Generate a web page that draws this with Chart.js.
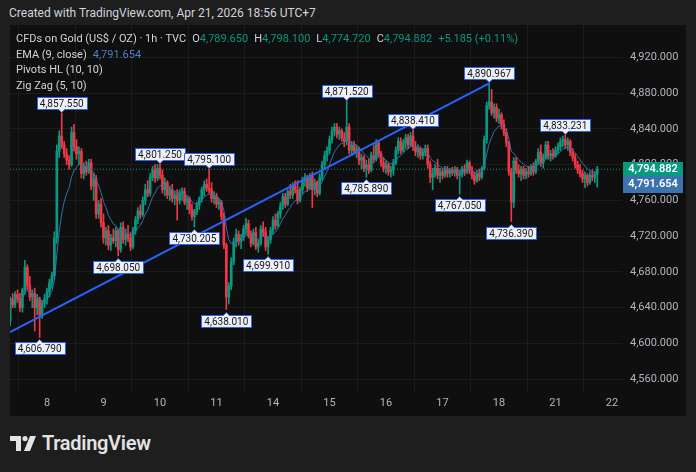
<!DOCTYPE html>
<html>
<head>
<meta charset="utf-8">
<script src="https://cdn.jsdelivr.net/npm/chart.js@4.4.1/dist/chart.umd.min.js"></script>
<style>
  html, body { margin: 0; padding: 0; width: 696px; height: 472px; overflow: hidden; background: #1e1e1e; font-family: Roboto, sans-serif; }
  #created { position: absolute; left: 9px; top: 6px; font-size: 12px; color: #d1d4dc; white-space: nowrap; }
  #panel { position: absolute; left: 10px; top: 25px; width: 676px; height: 391px; background: #0f0f0f; }
  #legend { position: absolute; left: 6px; top: 6px; font-size: 11px; line-height: 15.6px; color: #d1d4dc; white-space: nowrap; pointer-events: none; }
  #legend .g { color: #089981; }
  #legend .b { color: #4a80c4; }
  #legend .sp { display: inline-block; width: 6px; }
  #logo { position: absolute; left: 10px; top: 431px; height: 24px; display: flex; align-items: center; color: #e3e3e3; font-size: 20px; font-weight: 600; letter-spacing: -0.3px; }
  #logo svg { margin-right: 5px; }
</style>
</head>
<body>
<div id="created">Created with TradingView.com, Apr 21, 2026 18:56 UTC+7</div>
<div id="panel">
  <canvas id="chart" width="676" height="391"></canvas>
  <div id="legend">
    <div>CFDs on Gold (US$ / OZ) · 1h · TVC<span class="sp"></span>O<span class="g">4,789.650</span><span class="sp"></span>H<span class="g">4,798.100</span><span class="sp"></span>L<span class="g">4,774.720</span><span class="sp"></span>C<span class="g">4,794.882</span><span class="sp"></span><span class="g">+5.185 (+0.11%)</span></div>
    <div>EMA (9, close)<span class="sp"></span><span class="b">4,791.654</span></div>
    <div>Pivots HL (10, 10)</div>
    <div>Zig Zag (5, 10)</div>
  </div>
</div>
<div id="logo">
  <svg width="27" height="15" viewBox="0 0 27 15"><path d="M0 0h11v15H6V5H0z" fill="#e3e3e3"/><circle cx="15" cy="2.6" r="2.6" fill="#e3e3e3"/><path d="M20 0h6l-6 15h-6z" fill="#e3e3e3"/></svg>
  <span>TradingView</span>
</div>
<script>
// hourly candles, index 0 = first bar on screen (Apr 7), last = Apr 21 18:00
const opens = [
  4625,4650,4643,4655,4650,4640,4660,4685,4665,4652,4656,4640,4650,4632,4645,4650,4658,4668,4676,4718,
  4815,4832,4822,4812,4805,4800,4836,4820,4812,4815,4790,4798,4792,4802,4776,4784,4745,4756,4735,4718,
  4726,4710,4718,4715,4726,4705,4730,4716,4722,4718,4708,4726,4738,4748,4744,4760,4772,4768,4786,4794,
  4785,4796,4788,4772,4780,4766,4772,4762,4766,4760,4768,4770,4758,4762,4750,4742,4748,4755,4762,4772,
  4778,4774,4772,4762,4765,4756,4758,4742,4710,4652,4664,4692,4714,4722,4714,4718,4728,4734,4722,4712,
  4724,4708,4712,4728,4724,4708,4716,4726,4738,4732,4745,4754,4764,4756,4770,4766,4776,4772,4760,4772,
  4782,4786,4774,4788,4772,4780,4768,4786,4800,4810,4816,4828,4838,4842,4834,4838,4830,4826,4842,4816,
  4822,4815,4818,4805,4808,4796,4800,4794,4810,4806,4824,4812,4802,4796,4800,4792,4794,4802,4816,4826,
  4816,4824,4830,4822,4832,4820,4814,4818,4810,4814,4818,4800,4786,4790,4796,4788,4792,4788,4794,4790,
  4793,4791,4795,4788,4790,4795,4792,4802,4794,4788,4782,4790,4786,4796,4828,4866,4870,4858,4864,4852,
  4856,4845,4836,4824,4792,4758,4804,4794,4790,4795,4788,4792,4790,4798,4792,4804,4814,4802,4808,4822,
  4810,4812,4810,4816,4820,4826,4828,4822,4826,4814,4808,4800,4794,4790,4784,4788,4780,4788,4786,4789.65
];
const highs = [
  4652,4656,4658,4660,4656,4662,4693,4688,4675,4660,4662,4655,4652,4648,4655,4662,4672,4680,4725,4822,
  4838,4857.55,4826,4818,4810,4842,4845,4828,4820,4818,4802,4804,4806,4806,4790,4788,4760,4762,4745,4730,
  4732,4722,4728,4730,4728,4735,4736,4728,4732,4724,4730,4742,4752,4755,4764,4778,4782,4790,4798,4800,
  4800,4801.25,4794,4785,4782,4776,4778,4770,4772,4772,4774,4774,4765,4764,4756,4750,4758,4764,4775,4782,
  4784,4795.1,4780,4770,4768,4762,4760,4746,4712,4668,4696,4718,4728,4726,4722,4732,4740,4738,4726,4728,
  4730,4716,4732,4736,4730,4720,4730,4742,4745,4748,4758,4768,4768,4772,4778,4780,4782,4782,4775,4786,
  4790,4788,4790,4792,4784,4782,4790,4804,4815,4820,4832,4842,4846,4846,4842,4840,4836,4871.52,4846,4826,
  4826,4822,4820,4812,4810,4805,4806,4814,4822,4828,4826,4815,4808,4804,4802,4798,4806,4820,4830,4830,
  4828,4834,4834,4836,4838.41,4826,4822,4820,4818,4822,4822,4804,4796,4800,4806,4796,4796,4798,4798,4796,
  4797,4798,4797,4794,4798,4800,4805,4804,4798,4792,4794,4795,4798,4832,4870,4890.967,4884,4868,4868,4862,
  4858,4850,4840,4826,4796,4808,4808,4800,4798,4798,4796,4798,4800,4802,4806,4818,4822,4812,4826,4826,
  4816,4818,4820,4824,4830,4832,4833.231,4830,4828,4818,4812,4804,4800,4794,4792,4790,4792,4794,4792,4798.1
];
const lows = [
  4620,4640,4640,4646,4636,4635,4655,4660,4648,4640,4614,4632,4606.79,4628,4640,4644,4652,4662,4672,4712,
  4808,4818,4808,4800,4795,4798,4815,4806,4800,4785,4784,4788,4790,4772,4760,4740,4740,4730,4712,4710,
  4705,4704,4712,4708,4698.05,4702,4712,4710,4714,4704,4706,4722,4734,4740,4742,4755,4764,4765,4782,4780,
  4782,4784,4768,4765,4762,4760,4758,4755,4738,4756,4760,4755,4750,4745,4738,4730.205,4744,4750,4758,4765,
  4770,4768,4758,4756,4752,4750,4738,4706,4638.01,4644,4660,4688,4708,4710,4706,4715,4722,4718,4708,4710,
  4705,4702,4710,4720,4704,4699.91,4712,4722,4728,4730,4740,4750,4752,4754,4762,4762,4768,4756,4758,4768,
  4776,4770,4772,4752,4766,4764,4766,4782,4794,4804,4812,4824,4832,4830,4828,4826,4820,4822,4812,4810,
  4812,4808,4800,4795,4792,4785.89,4790,4792,4802,4804,4808,4798,4792,4790,4788,4786,4788,4800,4812,4812,
  4814,4818,4818,4820,4816,4810,4808,4806,4806,4810,4796,4780,4772,4786,4784,4780,4784,4786,4786,4786,
  4788,4787,4784,4767.05,4786,4788,4790,4790,4784,4778,4780,4782,4784,4794,4824,4862,4855,4852,4848,4846,
  4840,4832,4820,4788,4736.39,4752,4790,4786,4782,4784,4784,4786,4788,4788,4790,4800,4798,4796,4806,4806,
  4804,4806,4808,4812,4816,4820,4818,4816,4810,4804,4796,4790,4786,4780,4774,4776,4778,4782,4780,4774.72
];
const closes = [
  4650,4643,4655,4650,4640,4660,4685,4665,4652,4656,4640,4650,4632,4645,4650,4658,4668,4676,4718,4815,
  4832,4822,4812,4805,4800,4836,4820,4812,4815,4790,4798,4792,4802,4776,4784,4745,4756,4735,4718,4726,
  4710,4718,4715,4726,4705,4730,4716,4722,4718,4708,4726,4738,4748,4744,4760,4772,4768,4786,4794,4785,
  4796,4788,4772,4780,4766,4772,4762,4766,4760,4768,4770,4758,4762,4750,4742,4748,4755,4762,4772,4778,
  4774,4772,4762,4765,4756,4758,4742,4710,4652,4664,4692,4714,4722,4714,4718,4728,4734,4722,4712,4724,
  4708,4712,4728,4724,4708,4716,4726,4738,4732,4745,4754,4764,4756,4770,4766,4776,4772,4760,4772,4782,
  4786,4774,4788,4772,4780,4768,4786,4800,4810,4816,4828,4838,4842,4834,4838,4830,4826,4842,4816,4822,
  4815,4818,4805,4808,4796,4800,4794,4810,4806,4824,4812,4802,4796,4800,4792,4794,4802,4816,4826,4816,
  4824,4830,4822,4832,4820,4814,4818,4810,4814,4818,4800,4786,4790,4796,4788,4792,4788,4794,4790,4793,
  4791,4795,4788,4790,4795,4792,4802,4794,4788,4782,4790,4786,4796,4828,4866,4870,4858,4864,4852,4856,
  4845,4836,4824,4792,4758,4804,4794,4790,4795,4788,4792,4790,4798,4792,4804,4814,4802,4808,4822,4810,
  4812,4810,4816,4820,4826,4828,4822,4826,4814,4808,4800,4794,4790,4784,4788,4780,4788,4786,4789.65,4794.882
];

// day ticks (bar index where each date starts)
const dayTickIdx = [15, 38, 61, 84, 107, 130, 153, 176, 199, 222, 245];
const dayLabels = ['8', '9', '10', '11', '14', '15', '16', '17', '18', '21', '22'];
const priceTicks = [4560, 4600, 4640, 4680, 4720, 4760, 4800, 4840, 4880, 4920];

// Pivots HL (10, 10)
const pivotIdx = [12, 21, 44, 61, 75, 81, 88, 105, 137, 145, 164, 183, 195, 204, 226];
const pivotPrice = [4606.79, 4857.55, 4698.05, 4801.25, 4730.205, 4795.1, 4638.01, 4699.91, 4871.52, 4785.89, 4838.41, 4767.05, 4890.967, 4736.39, 4833.231];
const pivotKind = ['L', 'H', 'L', 'H', 'L', 'H', 'L', 'L', 'H', 'L', 'H', 'L', 'H', 'L', 'H'];

// Zig Zag (5, 10) - last leg, starting at the left edge
const zigzagIdx = [-0.06, 195];
const zigzagPrice = [4612.7, 4890.967];

const lastClose = 4794.882;
const emaLast = 4791.654;

const UP = '#089981', DOWN = '#f23645';
const xMin = -0.06, xMax = 249.07;

const fmt = v => v.toLocaleString('en-US', { minimumFractionDigits: 3, maximumFractionDigits: 3 });

const colors = closes.map((c, i) => c >= opens[i] ? UP : DOWN);
const wicks = closes.map((c, i) => ({ x: i, y: [lows[i], highs[i]] }));
const bodies = closes.map((c, i) => ({ x: i, y: [opens[i], c] }));

// EMA 9 of the closes
const k = 2 / 10;
const ema = [];
closes.forEach((c, i) => ema.push(i === 0 ? c : c * k + ema[i - 1] * (1 - k)));

const noPad = s => { s.paddingTop = 0; s.paddingBottom = 0; s.paddingLeft = 0; s.paddingRight = 0; };

const pivotPlugin = {
  id: 'pivots',
  afterDatasetsDraw(chart) {
    const { ctx, scales: { x, y } } = chart;
    ctx.save();
    ctx.font = '10px Roboto';
    ctx.textAlign = 'center';
    ctx.textBaseline = 'middle';
    ctx.lineWidth = 1;
    pivotIdx.forEach((idx, n) => {
      const px = x.getPixelForValue(idx);
      const py = y.getPixelForValue(pivotPrice[n]);
      const txt = fmt(pivotPrice[n]);
      const w = Math.round(ctx.measureText(txt).width + 6), h = 12;
      const hi = pivotKind[n] === 'H';
      const top = Math.round(hi ? py - 4 - h : py + 5) + 0.5;
      const left = Math.round(px - w / 2) + 0.5;
      ctx.beginPath();
      if (hi) {
        ctx.moveTo(left, top); ctx.lineTo(left + w, top); ctx.lineTo(left + w, top + h);
        ctx.lineTo(px + 3, top + h); ctx.lineTo(px, top + h + 3); ctx.lineTo(px - 3, top + h);
        ctx.lineTo(left, top + h);
      } else {
        ctx.moveTo(left, top); ctx.lineTo(px - 3, top); ctx.lineTo(px, top - 3); ctx.lineTo(px + 3, top);
        ctx.lineTo(left + w, top); ctx.lineTo(left + w, top + h); ctx.lineTo(left, top + h);
      }
      ctx.closePath();
      ctx.fillStyle = '#eef0f5';
      ctx.fill();
      ctx.strokeStyle = '#2962ff';
      ctx.stroke();
      ctx.fillStyle = '#131722';
      ctx.fillText(txt, px, top + h / 2 + 0.5);
    });
    ctx.restore();
  },
  afterDraw(chart) {
    const { ctx, chartArea, scales: { y } } = chart;
    const left = chartArea.right + 1, w = 60;
    const cy = Math.round(y.getPixelForValue(lastClose));
    ctx.save();
    ctx.font = '600 11px Roboto';
    ctx.textAlign = 'center';
    ctx.textBaseline = 'middle';
    ctx.fillStyle = UP;
    ctx.fillRect(left, cy - 7, w, 14);
    ctx.fillStyle = '#ffffff';
    ctx.fillText(fmt(lastClose), left + w / 2, cy);
    ctx.fillStyle = '#3b73ad';
    ctx.fillRect(left, cy + 7, w, 17);
    ctx.fillStyle = '#ffffff';
    ctx.fillText(fmt(emaLast), left + w / 2, cy + 15.5);
    ctx.restore();
  }
};

new Chart(document.getElementById('chart'), {
  type: 'bar',
  data: {
    datasets: [
      { type: 'line', data: zigzagIdx.map((v, i) => ({ x: v, y: zigzagPrice[i] })), borderColor: '#2962ff', borderWidth: 2, pointRadius: 0, order: 0 },
      { type: 'line', data: ema.map((v, i) => ({ x: i, y: v })), borderColor: '#3a6ea8', borderWidth: 1, pointRadius: 0, tension: 0, order: 1 },
      { type: 'bar', data: bodies, backgroundColor: colors, barThickness: 2, minBarLength: 1, grouped: false, order: 2 },
      { type: 'bar', data: wicks, backgroundColor: colors, barThickness: 1, grouped: false, order: 3 },
      { type: 'line', data: [{ x: xMin, y: lastClose }, { x: xMax, y: lastClose }], borderColor: UP, borderWidth: 1, borderDash: [1, 2], pointRadius: 0, order: 4 }
    ]
  },
  options: {
    responsive: false,
    animation: false,
    devicePixelRatio: 1,
    layout: { padding: 0 },
    plugins: { legend: { display: false }, tooltip: { enabled: false } },
    scales: {
      x: {
        type: 'linear', min: xMin, max: xMax, offset: false,
        grid: { color: '#1c1c1c', drawTicks: false },
        border: { display: false },
        afterBuildTicks: s => { s.ticks = dayTickIdx.map(v => ({ value: v })); },
        afterFit: s => { s.height = 24; noPad(s); },
        ticks: { color: '#b2b5be', font: { family: 'Roboto', size: 11 }, padding: 5, maxRotation: 0, autoSkip: false,
          callback: (v, i) => dayLabels[i] }
      },
      y: {
        position: 'right', min: 4545.8, max: 4956.11,
        grid: { color: '#1c1c1c', drawTicks: false },
        border: { display: false },
        afterBuildTicks: s => { s.ticks = priceTicks.map(v => ({ value: v })); },
        afterFit: s => { s.width = 64; noPad(s); },
        ticks: { color: '#b2b5be', font: { family: 'Roboto', size: 11 }, padding: 8, callback: v => fmt(v) }
      }
    }
  },
  plugins: [pivotPlugin]
});
</script>
</body>
</html>
